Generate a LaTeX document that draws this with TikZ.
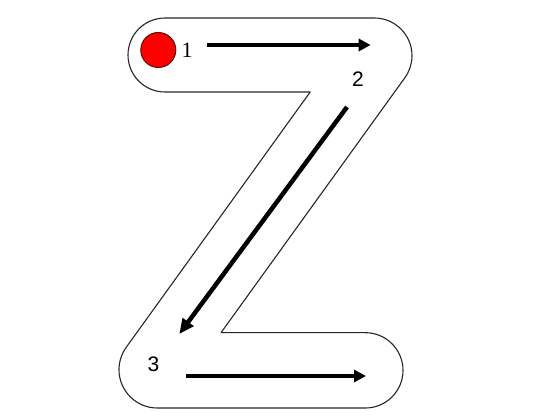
\documentclass[tikz,border=0pt]{standalone}
\usepackage{fontspec}
\setmainfont{Liberation Sans}
\newfontfamily\serifdigit{Liberation Serif}
\usetikzlibrary{arrows.meta}
\begin{document}
\begin{tikzpicture}[x=1pt,y=1pt,
  outline/.style={draw=black!85, line width=1.1pt, line join=round},
  strokearrow/.style={line width=3.5pt, -{Triangle[length=12pt,width=12pt]}},
  diagarrow/.style={line width=4.5pt, -{Triangle[length=15pt,width=13pt]}},
  num/.style={inner sep=0pt, font=\fontsize{21}{21}\selectfont},
  startdot/.style={circle, minimum size=35pt, inner sep=0pt, fill=red, draw={rgb,255:red,90;green,10;blue,10}, line width=1pt}]
\useasboundingbox (0,0) rectangle (560,420);
% letter outline
\draw[outline] (165,402) -- (374.3,402)
  arc[start angle=90, end angle=-35.8, radius=37.7]
  -- (221,87.3) -- (365.35,87.3)
  arc[start angle=90, end angle=-90, radius=37.65]
  -- (157.3,12)
  arc[start angle=270, end angle=144.1, radius=38.3]
  -- (310.2,328) -- (165,328)
  arc[start angle=270, end angle=90, radius=37] -- cycle;
% start dot and numbers
\node[startdot] (dot) at (158.3,370) {};
\node[num, font=\serifdigit\fontsize{22}{22}\selectfont] (n1) at (187,369.5) {1};
\node[num] (n2) at (358,340.5) {2};
\node[num] (n3) at (153.5,56) {3};
% arrow end points
\coordinate (a1s) at (206.7,375);
\coordinate (a1e) at (370.7,375);
\coordinate (a2s) at (347,313);
\coordinate (a2e) at (179.3,86);
\coordinate (a3s) at (186,44);
\coordinate (a3e) at (366,44);
\draw[strokearrow] (a1s) -- (a1e);
\draw[diagarrow] (a2s) -- (a2e);
\draw[strokearrow] (a3s) -- (a3e);
\end{tikzpicture}
\end{document}
